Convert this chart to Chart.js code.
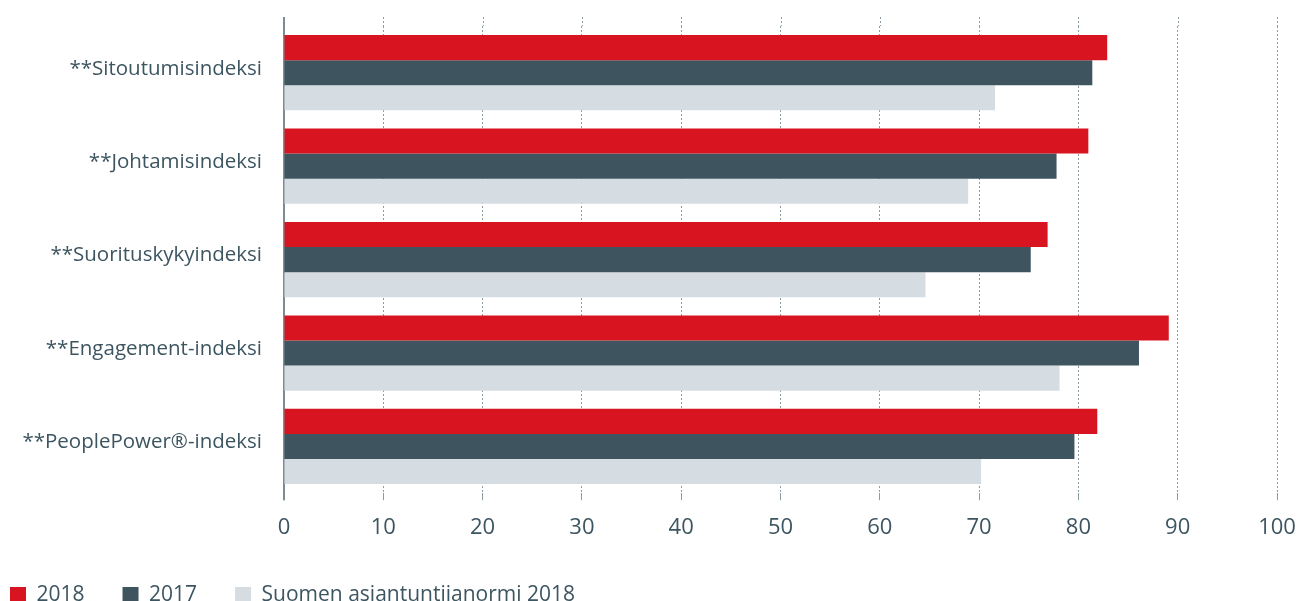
<!DOCTYPE html>
<html>
<head>
<meta charset="utf-8">
<script src="https://cdn.jsdelivr.net/npm/chart.js@4/dist/chart.umd.min.js"></script>
<style>
  html, body { margin: 0; padding: 0; background: #ffffff; overflow: hidden; }
  #wrap { width: 1299px; height: 601px; position: relative; }
</style>
</head>
<body>
<div id="wrap"><canvas id="chart"></canvas></div>
<script>
const categories = [
  "**Sitoutumisindeksi",
  "**Johtamisindeksi",
  "**Suorituskykyindeksi",
  "**Engagement-indeksi",
  "**PeoplePower\u00AE-indeksi",
];
const values2018 = [82.9, 81.0, 76.9, 89.1, 81.9];
const values2017 = [81.4, 77.8, 75.2, 86.1, 79.6];
const valuesNorm = [71.6, 68.9, 64.6, 78.1, 70.2];
const seriesLabels = ["2018", "2017", "Suomen asiantuntijanormi 2018"];
const xTicks = [0, 10, 20, 30, 40, 50, 60, 70, 80, 90, 100];

const textColor = "#3d5560";
const gridColor = "#8f9ba2";
const axisColor = "#7d8b93";
const font = "'Open Sans', sans-serif";

// the grid and the zero line reach a little past the plot area
const gridStubs = {
  id: "gridStubs",
  beforeDatasetsDraw(chart) {
    const { ctx, chartArea, scales } = chart;
    ctx.save();
    xTicks.forEach((t) => {
      const x = scales.x.getPixelForValue(t);
      ctx.beginPath();
      if (t === 0) {
        ctx.strokeStyle = axisColor;
        ctx.lineWidth = 2;
        ctx.setLineDash([]);
        ctx.moveTo(x, chartArea.top - 9);
        ctx.lineTo(x, chartArea.top);
        ctx.moveTo(x, chartArea.bottom);
        ctx.lineTo(x, chartArea.bottom + 7);
      } else {
        ctx.strokeStyle = gridColor;
        ctx.lineWidth = 1;
        ctx.setLineDash([2, 2]);
        ctx.moveTo(Math.round(x) + 0.5, chartArea.top - 9);
        ctx.lineTo(Math.round(x) + 0.5, chartArea.top);
      }
      ctx.stroke();
    });
    ctx.restore();
  },
};

new Chart(document.getElementById("chart"), {
  type: "bar",
  data: {
    labels: categories,
    datasets: [
      { label: seriesLabels[0], data: values2018, backgroundColor: "#d7141f" },
      { label: seriesLabels[1], data: values2017, backgroundColor: "#3e5560" },
      { label: seriesLabels[2], data: valuesNorm, backgroundColor: "#d5dde3" },
    ],
  },
  options: {
    indexAxis: "y",
    responsive: true,
    maintainAspectRatio: false,
    animation: false,
    datasets: {
      bar: { categoryPercentage: 0.805, barPercentage: 1.0, borderWidth: 0 },
    },
    layout: { padding: { left: -28, right: 22, top: 26, bottom: -14.6 } },
    plugins: {
      tooltip: { enabled: false },
      legend: {
        position: "bottom",
        align: "start",
        labels: {
          boxWidth: 16,
          boxHeight: 16,
          padding: 38,
          color: textColor,
          font: { family: font, size: 21 },
        },
      },
    },
    scales: {
      x: {
        min: 0,
        max: 100,
        afterBuildTicks(scale) {
          scale.ticks = xTicks.map((v) => ({ value: v }));
        },
        afterFit(scale) {
          scale.height = 53.4;
          scale.paddingLeft = 0;
          scale.paddingRight = 0;
        },
        grid: {
          color: gridColor,
          lineWidth: 1,
          tickLength: 7,
          tickColor: gridColor,
        },
        border: { display: false, dash: [2, 2] },
        ticks: {
          color: textColor,
          padding: 14,
          maxRotation: 0,
          font: { family: font, size: 22 },
        },
      },
      y: {
        afterFit(scale) {
          scale.width = 312;
          scale.paddingTop = 0;
          scale.paddingBottom = 0;
        },
        grid: { display: false, drawTicks: false },
        border: { display: true, color: axisColor, width: 2 },
        ticks: {
          color: textColor,
          padding: 22,
          labelOffset: -4,
          font: { family: font, size: 20.5 },
        },
      },
    },
  },
  plugins: [gridStubs],
});
</script>
</body>
</html>
